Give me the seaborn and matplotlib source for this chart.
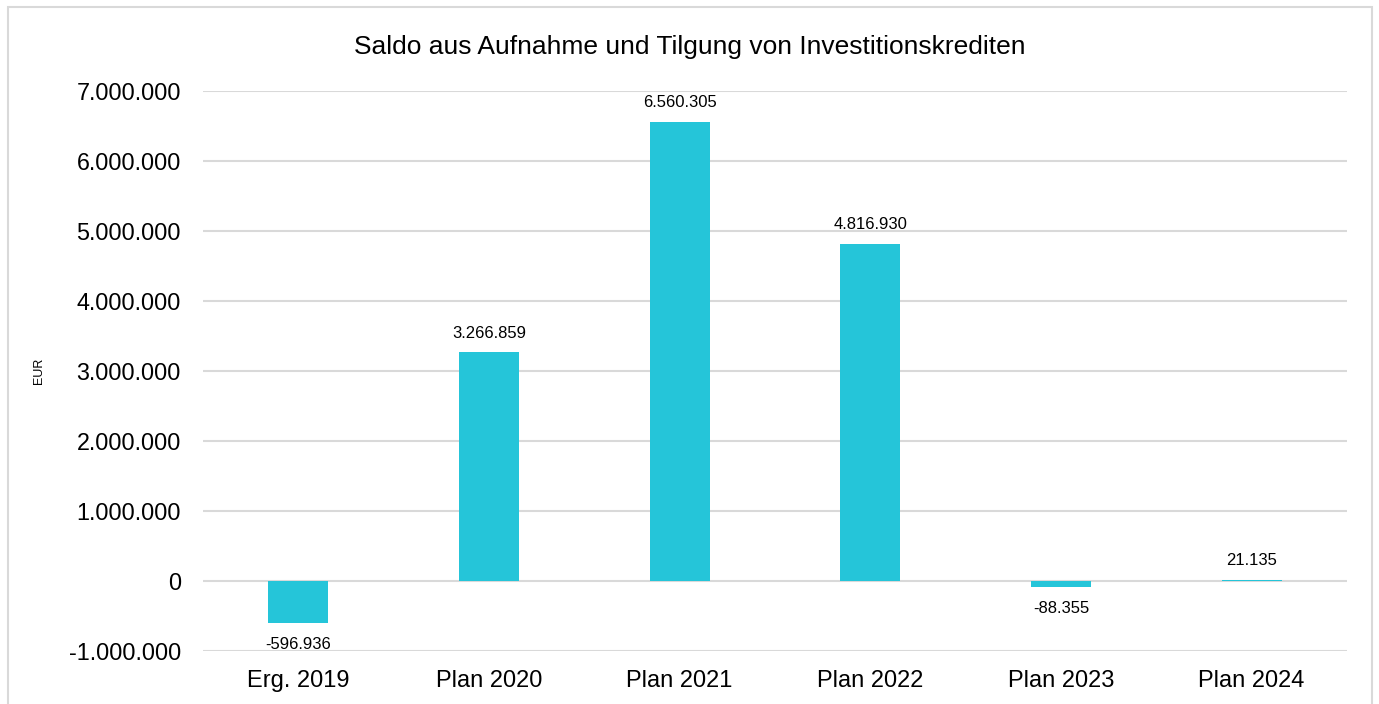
import seaborn as sns
import matplotlib.pyplot as plt
import pandas as pd
from matplotlib.patches import Rectangle

categories = ['Erg. 2019', 'Plan 2020', 'Plan 2021', 'Plan 2022', 'Plan 2023', 'Plan 2024']
values = [-596936, 3266859, 6560305, 4816930, -88355, 21135]
yticks = [-1000000, 0, 1000000, 2000000, 3000000, 4000000, 5000000, 6000000, 7000000]

df = pd.DataFrame({'Kategorie': categories, 'EUR': values})


def de_fmt(v):
    return f'{v:,.0f}'.replace(',', '.')


sns.set_style('white')
plt.rcParams['font.family'] = ['Liberation Sans', 'DejaVu Sans']
plt.rcParams['text.color'] = '#000000'

fig = plt.figure(figsize=(13.79, 7.04), dpi=100)
ax = fig.add_axes([0.1472, 0.0753, 0.8296, 0.7954])

sns.barplot(data=df, x='Kategorie', y='EUR', color='#25C5D9', saturation=1,
            width=0.315, linewidth=0, ax=ax, zorder=3)

ax.set_ylim(-1000000, 7000000)
ax.set_yticks(yticks)
ax.set_yticklabels([de_fmt(t) for t in yticks])
ax.tick_params(axis='x', labelsize=17, length=0, pad=14, colors='#000000')
ax.tick_params(axis='y', labelsize=16.8, length=0, pad=16, colors='#000000')
ax.yaxis.grid(True, color='#D9D9D9', linewidth=1.5, zorder=0)
ax.set_axisbelow(True)
ax.xaxis.grid(False)
for s in ax.spines.values():
    s.set_visible(False)
ax.set_xlabel('')
ax.set_ylabel('EUR', fontsize=9, color='#000000')
ax.yaxis.set_label_coords(-0.138, 0.5)

for i, v in enumerate(values):
    if v >= 0:
        ax.annotate(de_fmt(v), (i, v), xytext=(0, 8.5), textcoords='offset points',
                    ha='center', va='bottom', fontsize=12)
    else:
        ax.annotate(de_fmt(v), (i, v), xytext=(0, -10), textcoords='offset points',
                    ha='center', va='top', fontsize=12)

fig.text(0.5, 0.933, 'Saldo aus Aufnahme und Tilgung von Investitionskrediten',
         ha='center', va='center', fontsize=19)

fig.patches.append(Rectangle((8 / 1379, -0.05), 1364 / 1379, 1.04, transform=fig.transFigure,
                             fill=False, edgecolor='#D9D9D9', linewidth=1.5))

fig.savefig('out.png', dpi=100)
